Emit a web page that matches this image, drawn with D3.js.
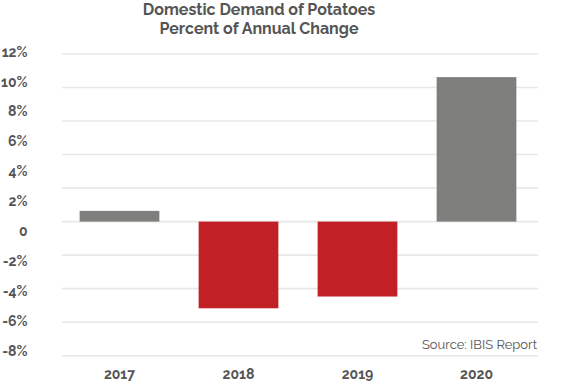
<!DOCTYPE html>
<html><head><meta charset="utf-8">
<script src="https://cdn.jsdelivr.net/npm/d3@7"></script>
<style>
html,body{margin:0;padding:0;background:#fff;}
text{font-family:Raleway,Lato,"Open Sans",sans-serif;}
</style></head>
<body>
<svg id="chart" width="564" height="384"></svg>
<script>
const categories = ["2017","2018","2019","2020"];
const values = [0.64, -5.17, -4.47, 8.62];
const gridValues = [-8,-6,-4,-2,0,2,4,6,8,10];
const tickLabels = ["12%","10%","8%","6%","4%","2%","0","-2%","-4%","-6%","-8%"];
const tickValues = [12,10,8,6,4,2,0,-2,-4,-6,-8];
const titleLines = ["Domestic Demand of Potatoes","Percent of Annual Change"];
const sourceText = "Source: IBIS Report";

const svg = d3.select("#chart");

const x = d3.scaleBand().domain(categories).range([60,536]).paddingInner(0.33).paddingOuter(0.165);
const y = d3.scaleLinear().domain([-8,10]).range([355.7,54]);
const yLab = d3.scaleLinear().domain([-8,12]).range([350.7,51.7]);

// gridlines
svg.append("g").selectAll("line").data(gridValues).join("line")
  .attr("x1",62).attr("x2",538)
  .attr("y1",d=>y(d)).attr("y2",d=>y(d))
  .attr("stroke","#e8e8e8").attr("stroke-width",1.6);

// bars
svg.append("g").selectAll("rect").data(values).join("rect")
  .attr("x",(d,i)=>x(categories[i]))
  .attr("width",x.bandwidth())
  .attr("y",d=>y(Math.max(0,d)))
  .attr("height",d=>Math.abs(y(d)-y(0)))
  .attr("fill",d=>d<0?"#c12026":"#7e7f7d");

// y labels axis
const yAxis = d3.axisLeft(yLab).tickValues(tickValues).tickSize(0).tickPadding(0)
  .tickFormat((d,i)=>tickLabels[i]);
const ga = svg.append("g").attr("transform","translate(27.5,0)").call(yAxis);
ga.select(".domain").remove();
ga.selectAll("text").attr("font-size",14).attr("font-weight",700).attr("fill","#555")
  .style("font-family","Raleway,Lato,'Open Sans',sans-serif");

// x labels
const xAxis = d3.axisBottom(x).tickSize(0).tickPadding(0);
const gx = svg.append("g").attr("transform","translate(0,369)").call(xAxis);
gx.select(".domain").remove();
gx.selectAll("text").attr("font-size",14).attr("font-weight",700).attr("fill","#555")
  .style("font-family","Raleway,Lato,'Open Sans',sans-serif");

// title
svg.append("g").selectAll("text").data(titleLines).join("text")
  .attr("x",259).attr("y",(d,i)=>15+i*19)
  .attr("text-anchor","middle").attr("font-size",16).attr("font-weight",700)
  .attr("fill","#555").text(d=>d);

// source
svg.append("text").attr("x",537).attr("y",349).attr("text-anchor","end")
  .attr("font-size",13).attr("font-weight",400).attr("fill","#555").text(sourceText);
</script>
</body></html>
